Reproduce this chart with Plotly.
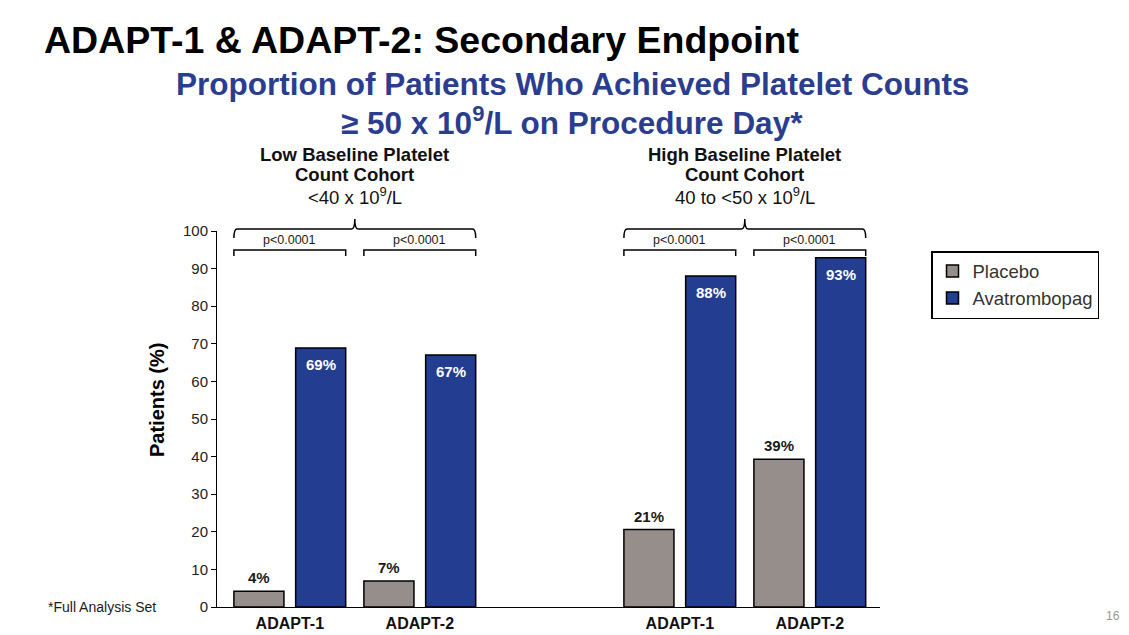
import plotly.graph_objects as go

# ---- data ----
cohort_line1 = ["Low Baseline Platelet", "High Baseline Platelet"]
cohort_line2 = ["Count Cohort", "Count Cohort"]
cohort_ranges = ["&lt;40 x 10<sup>9</sup>/L", "40 to &lt;50 x 10<sup>9</sup>/L"]
studies = ["ADAPT-1", "ADAPT-2"]
placebo = [4.2, 6.9, 20.6, 39.3]
avatrombopag = [68.9, 67.0, 88.0, 92.9]
p_values = ["p&lt;0.0001", "p&lt;0.0001", "p&lt;0.0001", "p&lt;0.0001"]
y_ticks = [0, 10, 20, 30, 40, 50, 60, 70, 80, 90, 100]

# ---- layout constants ----
FONT = "Arial, Liberation Sans, sans-serif"
W, H = 1129, 635
L, R_PX, T_PX, B_PX = 217, 880, 231, 607
PLACEBO_C = "#968E8B"
AVA_C = "#233D90"
BLUE_TXT = "#2B3D8F"

def px2y(py):
    return (B_PX - py) / (B_PX - T_PX)

def px2x(px):
    return (px - L) / (R_PX - L)

n_c = len(cohort_line1)
n_s = len(studies)
# x positions: study index within cohort, cohorts separated by one empty slot
xpos = [c * (n_s + 1) + s for c in range(n_c) for s in range(n_s)]
xlabels = [studies[s] for c in range(n_c) for s in range(n_s)]

BW = 0.385
OFF_P = -0.43
OFF_A = 0.045

fig = go.Figure()
fig.add_trace(go.Bar(name="Placebo", x=xpos, y=placebo, width=BW, offset=OFF_P,
                     marker=dict(color=PLACEBO_C, line=dict(color="black", width=1.5))))
fig.add_trace(go.Bar(name="Avatrombopag", x=xpos, y=avatrombopag, width=BW, offset=OFF_A,
                     marker=dict(color=AVA_C, line=dict(color="black", width=1.5))))

ann = []

def txt(x, y, text, size, color="#111111", xref="paper", yref="paper",
        xanchor="center", yanchor="middle", **kw):
    ann.append(dict(x=x, y=y, xref=xref, yref=yref, text=text, showarrow=False,
                    xanchor=xanchor, yanchor=yanchor,
                    font=dict(family=FONT, size=size, color=color), **kw))

# value labels
for x, v in zip(xpos, placebo):
    txt(x + OFF_P + BW / 2, v, f"<b>{round(v)}%</b>", 15, "#1a1a1a", xref="x", yref="y",
        yanchor="bottom", yshift=3)
for x, v in zip(xpos, avatrombopag):
    txt(x + OFF_A + BW / 2, v, f"<b>{round(v)}%</b>", 15, "white", xref="x", yref="y",
        yanchor="top", yshift=-6)

shapes = []
# brackets + p-values
y_in_line, y_in_end = px2y(250), px2y(256)
for x, p in zip(xpos, p_values):
    xa, xb = x + OFF_P, x + OFF_A + BW
    shapes.append(dict(type="path", xref="x", yref="paper",
                       path=f"M {xa},{y_in_end} L {xa},{y_in_line} L {xb},{y_in_line} L {xb},{y_in_end}",
                       line=dict(color="black", width=1.5)))
    txt(x, px2y(240), p, 12.5, "#1a1a1a", xref="x")

# cohort braces and headers
y_line, y_end, y_tip = px2y(229), px2y(238), px2y(219)
c = 0.025
for ci in range(n_c):
    xs = xpos[ci * n_s:(ci + 1) * n_s]
    xa, xb = xs[0] + OFF_P, xs[-1] + OFF_A + BW
    xm = (xa + xb) / 2
    path = (f"M {xa},{y_end} Q {xa},{y_line} {xa + c},{y_line} L {xm - c},{y_line} "
            f"Q {xm},{y_line} {xm},{y_tip} Q {xm},{y_line} {xm + c},{y_line} "
            f"L {xb - c},{y_line} Q {xb},{y_line} {xb},{y_end}")
    shapes.append(dict(type="path", xref="x", yref="paper", path=path,
                       line=dict(color="black", width=1.5)))
    txt(xm, px2y(154), f"<b>{cohort_line1[ci]}</b>", 18.5, xref="x")
    txt(xm, px2y(175), f"<b>{cohort_line2[ci]}</b>", 18.5, xref="x")
    txt(xm, px2y(196), cohort_ranges[ci], 18.5, xref="x")

# titles
txt(px2x(42), px2y(40), "<b>ADAPT-1 &amp; ADAPT-2: Secondary Endpoint</b>", 37.5, "black", xanchor="left")
txt(px2x(572), px2y(84), "<b>Proportion of Patients Who Achieved Platelet Counts</b>", 31.5, BLUE_TXT)
txt(px2x(572), px2y(121), "<b>≥ 50 x 10<sup>9</sup>/L on Procedure Day*</b>", 31.5, BLUE_TXT)
# y title
txt(px2x(157), px2y(400), "<b>Patients (%)</b>", 20, "black", textangle=-90)
# footnote & page number
txt(px2x(46), px2y(607), "*Full Analysis Set", 14, "#1a1a1a", xanchor="left")
txt(px2x(1113), px2y(616), "16", 12, "#999999")

fig.update_layout(
    width=W, height=H,
    margin=dict(l=L, r=W - R_PX, t=T_PX, b=H - B_PX, autoexpand=False),
    paper_bgcolor="white", plot_bgcolor="white",
    barmode="overlay",
    showlegend=True,
    legend=dict(x=px2x(931), y=px2y(251), xanchor="left", yanchor="top",
                bordercolor="black", borderwidth=1.5, bgcolor="white",
                font=dict(family=FONT, size=18.5, color="#333333"),
                itemclick=False, itemdoubleclick=False),
    font=dict(family=FONT),
    annotations=ann, shapes=shapes,
)
fig.update_xaxes(range=[-0.56, 4.54], tickvals=xpos, ticktext=[f"<b>{t}</b>" for t in xlabels],
                 showline=True, linecolor="black", linewidth=1, ticks="", showgrid=False,
                 zeroline=False, tickfont=dict(family=FONT, size=16, color="#111111"),
                 ticklabelstandoff=2)
fig.update_yaxes(range=[0, 100], tickvals=y_ticks, showline=True, linecolor="black", linewidth=1,
                 ticks="outside", ticklen=5, tickcolor="black", showgrid=False, zeroline=False,
                 tickfont=dict(family=FONT, size=15, color="#222222"))

fig.write_html("out.html", config={"displayModeBar": False},
               post_script="document.body.style.margin='0';document.body.style.padding='0';")
